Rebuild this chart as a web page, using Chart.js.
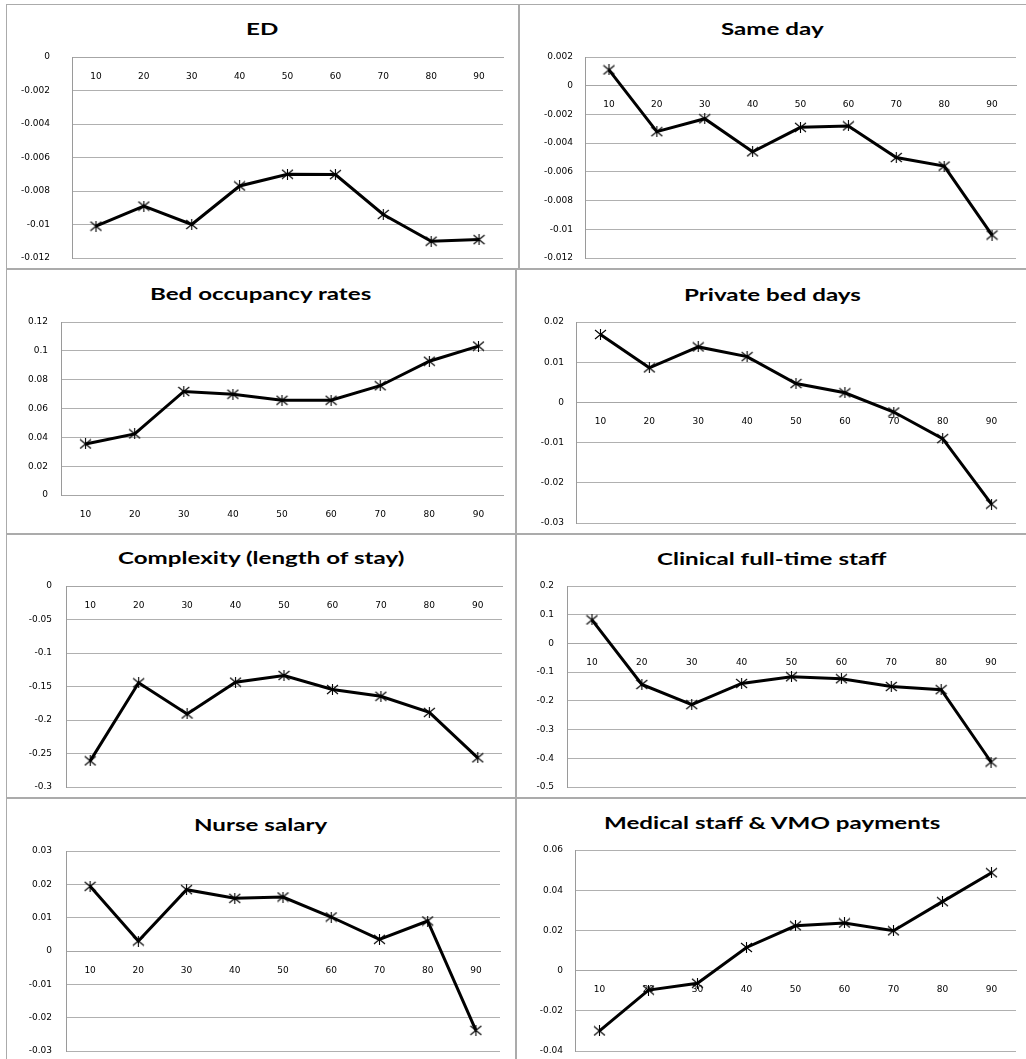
<!DOCTYPE html>
<html lang="en">
<head>
<meta charset="UTF-8">
<title>Decile coefficients</title>
<script src="https://cdn.jsdelivr.net/npm/chart.js@4.4.0/dist/chart.umd.min.js"></script>
<style>
  body { margin: 0; background: #fff; }
  #page { position: relative; width: 1026px; height: 1059px; overflow: hidden; }
  #page canvas { position: absolute; }
  .hl { position: absolute; height: 2px; background: #ababab; }
  .vl { position: absolute; width: 2px; background: #ababab; }
  .ttl {
    position: absolute; white-space: nowrap; text-align: center;
    font: bold 17px Lato, sans-serif; color: #000; line-height: 20px;
    transform: scaleX(1.42); transform-origin: 0 0;
  }
</style>
</head>
<body>
<div id="page">
  <div class="hl" style="left:6px;top:4px;width:1020px;height:1px"></div>
  <div class="vl" style="left:6px;top:4px;height:1055px;width:1px"></div>
  <div class="hl" style="left:6px;top:268px;width:1020px"></div>
  <div class="hl" style="left:6px;top:533px;width:1020px"></div>
  <div class="hl" style="left:6px;top:797px;width:1020px"></div>
  <div class="vl" style="left:518px;top:4px;height:265px"></div>
  <div class="vl" style="left:515px;top:268px;height:791px"></div>
</div>

<script>
// deciles on the x axis
const deciles = ['10', '20', '30', '40', '50', '60', '70', '80', '90'];

// values
const edVals        = [-0.0101, -0.0089, -0.0100, -0.0077, -0.0070, -0.00702, -0.0094, -0.0110, -0.0109];
const sameDayVals   = [0.0011, -0.0032, -0.0023, -0.0046, -0.0029, -0.0028, -0.0050, -0.0056, -0.0104];
const bedOccVals    = [0.0354, 0.0424, 0.0718, 0.0699, 0.0657, 0.0657, 0.0758, 0.0928, 0.1033];
const privateVals   = [0.0169, 0.0086, 0.0138, 0.0114, 0.0047, 0.0024, -0.0024, -0.0090, -0.0253];
const complexVals   = [-0.261, -0.1445, -0.191, -0.1435, -0.1335, -0.1545, -0.1646, -0.1887, -0.2564];
const clinicalVals  = [0.082, -0.143, -0.213, -0.1395, -0.116, -0.123, -0.150, -0.161, -0.413];
const nurseVals     = [0.0194, 0.0030, 0.0184, 0.0158, 0.0162, 0.0102, 0.0035, 0.0090, -0.0238];
const medicalVals   = [-0.030, -0.0097, -0.0063, 0.0115, 0.0223, 0.0237, 0.0198, 0.0343, 0.0487];

const titles = ['ED', 'Same day', 'Bed occupancy rates', 'Private bed days',
  'Complexity (length of stay)', 'Clinical full-time staff', 'Nurse salary', 'Medical staff & VMO payments'];
const series = [edVals, sameDayVals, bedOccVals, privateVals, complexVals, clinicalVals, nurseVals, medicalVals];

// y axis ranges
const yMins  = [-0.012, -0.012, 0, -0.03, -0.3, -0.5, -0.03, -0.04];
const yMaxs  = [0, 0.002, 0.12, 0.02, 0, 0.2, 0.03, 0.06];
const ySteps = [0.002, 0.002, 0.02, 0.01, 0.05, 0.1, 0.01, 0.02];

// where each panel sits: canvas box [left, top, w, h], plot area [left, top, right, bottom], y label gap
const boxes = [[7, 5, 510, 263], [519, 5, 507, 263], [7, 270, 508, 263], [519, 270, 507, 263],
               [7, 535, 508, 262], [519, 535, 507, 262], [7, 799, 508, 260], [519, 799, 507, 260]];
const areas = [[72, 57, 503, 256], [585, 57, 1016, 256], [61, 322, 503, 493], [576, 322, 1016, 521],
               [66, 586, 502, 785], [567, 586, 1016, 785], [66, 851, 500, 1050], [575, 850, 1016, 1050]];
const yGaps = [22, 12, 13, 12, 14, 13, 14, 12];
const titleMids = [29, 29, 294, 295, 558, 559, 825, 823];

// Excel style star marker: an x with a vertical stroke
function starMarker() {
  const c = document.createElement('canvas');
  c.width = 13; c.height = 11;
  const g = c.getContext('2d');
  g.strokeStyle = '#000';
  g.lineWidth = 1.1;
  g.beginPath();
  g.moveTo(1, 1); g.lineTo(12, 10);
  g.moveTo(12, 1); g.lineTo(1, 10);
  g.moveTo(6.5, 0); g.lineTo(6.5, 11);
  g.stroke();
  return c;
}
const marker = starMarker();

function fmt(v) {
  return String(Number(v.toFixed(4)));
}

const page = document.getElementById('page');

series.forEach(function (vals, i) {
  const [L, T, W, H] = boxes[i];
  const [a, b, c, d] = areas[i];

  const t = document.createElement('div');
  t.className = 'ttl';
  t.textContent = titles[i];
  t.style.top = (titleMids[i] - 10) + 'px';
  page.appendChild(t);
  // center the stretched text on its cell
  t.style.left = (L + W / 2 - t.offsetWidth * 1.42 / 2) + 'px';

  const cv = document.createElement('canvas');
  cv.width = W; cv.height = H;
  cv.style.left = L + 'px'; cv.style.top = T + 'px';
  cv.style.width = W + 'px'; cv.style.height = H + 'px';
  page.appendChild(cv);

  const yW = a - L;

  new Chart(cv, {
    type: 'line',
    data: {
      labels: deciles,
      datasets: [{
        data: vals,
        borderColor: '#000',
        borderWidth: 3,
        tension: 0,
        fill: false,
        pointStyle: marker,
        pointRadius: 5,
        pointHoverRadius: 5
      }]
    },
    options: {
      responsive: false,
      animation: false,
      events: [],
      // -2 on the bottom: chart.js keeps a couple of px back there
      layout: { padding: { left: 0, right: L + W - c, top: b - T, bottom: T + H - d - 2 } },
      plugins: {
        legend: { display: false },
        tooltip: { enabled: false },
        title: { display: false }
      },
      scales: {
        x: {
          type: 'category',
          position: { y: 0 },
          offset: true,
          afterFit: function (s) { s.height = 0; },
          grid: { display: false, drawTicks: false },
          border: { display: true, color: '#a6a6a6', width: 1 },
          ticks: { padding: 14, color: '#000', font: { family: 'DejaVu Sans', size: 9 }, maxRotation: 0, autoSkip: false }
        },
        y: {
          min: yMins[i],
          max: yMaxs[i],
          afterFit: function (s) { s.width = yW; },
          // gap to the labels comes from invisible tick marks so it does not pad the plot top/bottom
          grid: { color: '#b0b0b0', lineWidth: 1, drawTicks: true, tickLength: yGaps[i], tickColor: 'rgba(0,0,0,0)' },
          border: { display: true, color: '#9a9a9a', width: 1 },
          ticks: { stepSize: ySteps[i], padding: 0, color: '#000', font: { family: 'DejaVu Sans', size: 9 }, callback: fmt }
        }
      }
    }
  });
});
</script>
</body>
</html>
